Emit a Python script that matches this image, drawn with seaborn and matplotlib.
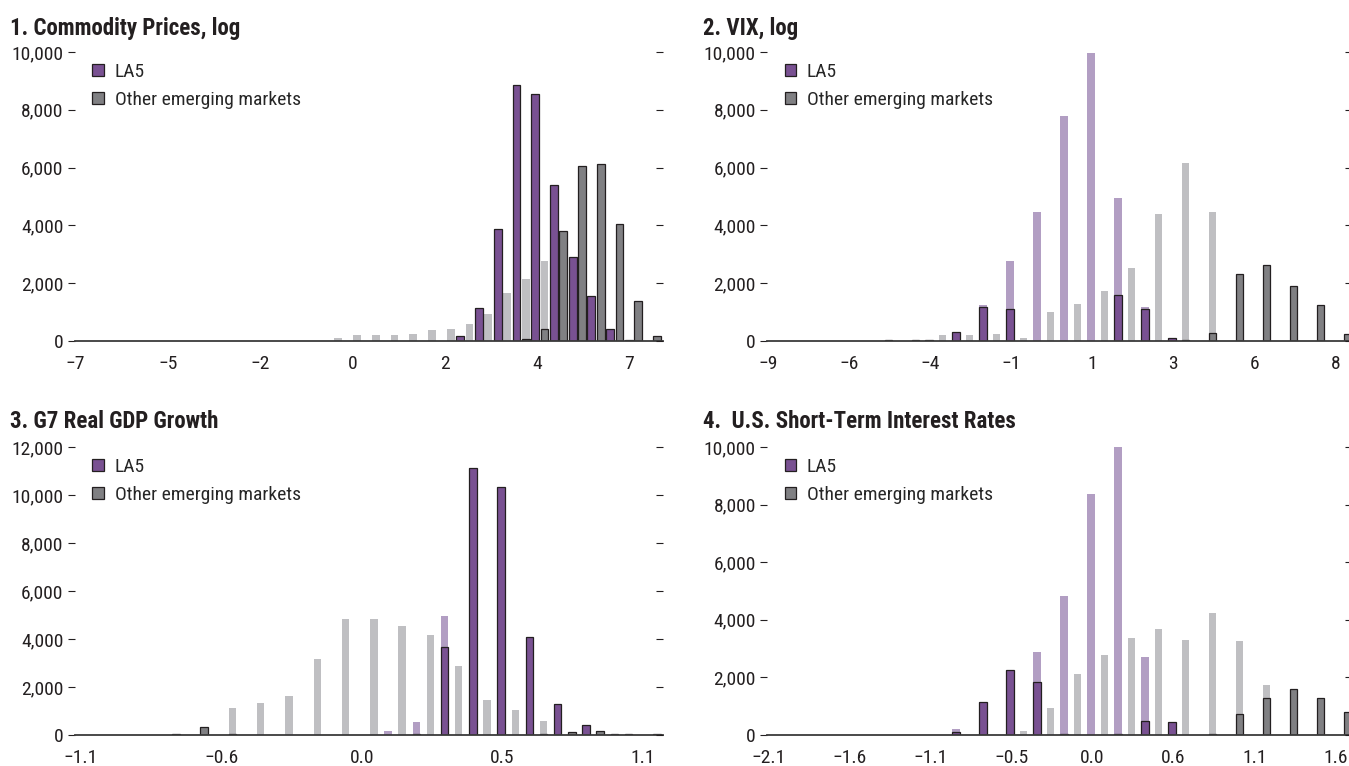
import matplotlib
matplotlib.use("Agg")
import matplotlib.pyplot as plt
import seaborn as sns
import pandas as pd
import numpy as np
from matplotlib import font_manager
from matplotlib.ticker import StrMethodFormatter

# colours
LA5_DARK = "#7b469d"
LA5_LIGHT = "#b398c9"
EM_DARK = "#7f8084"
EM_LIGHT = "#bebfc3"
EDGE = "#231f20"
TEXT = "#231f20"
SERIES = ["LA5", "Other emerging markets"]

# 1. Commodity prices, log  (bins -1 .. 16)
bins_1 = np.arange(-1, 17)
la5_total_1 = [0, 0, 0, 0, 0, 0, 0, 175, 1150, 3875, 8860, 8550, 5390, 2900, 1565, 420, 50, 0]
la5_dark_1 = [0, 0, 0, 0, 0, 0, 0, 175, 1150, 3875, 8860, 8550, 5390, 2900, 1565, 420, 50, 0]
em_total_1 = [120, 200, 200, 200, 255, 370, 430, 600, 930, 1650, 2135, 2770, 3815, 6055, 6125, 4050, 1380, 175]
em_dark_1 = [0, 0, 0, 0, 0, 0, 0, 0, 0, 0, 60, 410, 3815, 6055, 6125, 4050, 1380, 175]
xlabels_1 = ["\u22127", "\u22125", "\u22122", "0", "2", "4", "7"]

# 2. VIX, log  (bins -3 .. 14)
bins_2 = np.arange(-3, 15)
la5_total_2 = [0, 0, 50, 300, 1240, 2770, 4480, 7780, 9980, 4965, 1180, 115, 0, 0, 0, 0, 0, 0]
la5_dark_2 = [0, 0, 50, 300, 1160, 1090, 0, 0, 0, 1580, 1090, 115, 0, 0, 0, 0, 0, 0]
em_total_2 = [50, 50, 200, 200, 230, 115, 1000, 1275, 1730, 2540, 4410, 6150, 4480, 2310, 2620, 1900, 1230, 255]
em_dark_2 = [50, 50, 0, 0, 0, 0, 0, 0, 0, 0, 0, 50, 290, 2310, 2620, 1900, 1230, 255]
xlabels_2 = ["\u22129", "\u22126", "\u22124", "\u22121", "1", "3", "6", "8"]

# 3. G7 real GDP growth  (bins -7 .. 10)
bins_3 = np.arange(-7, 11)
la5_total_3 = [0, 0, 0, 0, 0, 0, 0, 0, 150, 530, 4950, 11130, 10350, 4080, 1300, 420, 60, 0]
la5_dark_3 = [0, 0, 0, 0, 0, 0, 0, 0, 0, 40, 3650, 11130, 10350, 4080, 1300, 420, 60, 0]
em_total_3 = [50, 350, 1115, 1320, 1615, 3160, 4830, 4830, 4555, 4180, 2880, 1450, 1045, 585, 140, 150, 60, 60]
em_dark_3 = [50, 350, 50, 0, 0, 0, 0, 0, 0, 0, 0, 0, 0, 50, 140, 150, 60, 60]
xlabels_3 = ["\u22121.1", "\u22120.6", "0.0", "0.5", "1.1"]

# 4. U.S. short-term interest rates  (bins -3 .. 14)
bins_4 = np.arange(-3, 15)
la5_total_4 = [0, 0, 0, 200, 1160, 2250, 2890, 4840, 8380, 10000, 2725, 450, 0, 0, 0, 0, 0, 0]
la5_dark_4 = [0, 0, 0, 115, 1160, 2250, 1830, 50, 0, 50, 490, 450, 0, 0, 0, 0, 0, 0]
em_total_4 = [0, 0, 0, 0, 0, 140, 930, 2110, 2785, 3365, 3690, 3305, 4235, 3270, 1740, 1600, 1290, 790]
em_dark_4 = [0, 0, 0, 0, 0, 0, 0, 0, 0, 0, 0, 0, 50, 730, 1290, 1600, 1290, 790]
xlabels_4 = ["\u22122.1", "\u22121.6", "\u22121.1", "\u22120.5", "0.0", "0.6", "1.1", "1.6"]


def make_frame(bins, la5, em):
    df = pd.DataFrame({
        "bin": np.concatenate([bins, bins]),
        "series": [SERIES[0]] * len(bins) + [SERIES[1]] * len(bins),
        "count": list(la5) + list(em),
    })
    return df[df["count"] > 0]


def draw_panel(ax, bins, la5_total, la5_dark, em_total, em_dark,
               gap, xlim, xticks, xlabels, ytop):
    light = make_frame(bins, la5_total, em_total)
    dark = make_frame(bins, la5_dark, em_dark)

    # full distribution in pale colours, conditional part on top with outline
    sns.barplot(data=light, x="bin", y="count", hue="series", hue_order=SERIES,
                palette=[LA5_LIGHT, EM_LIGHT], native_scale=True, width=1.0,
                dodge=True, gap=gap, errorbar=None, linewidth=0, legend=False, ax=ax)
    sns.barplot(data=dark, x="bin", y="count", hue="series", hue_order=SERIES,
                palette=[LA5_DARK, EM_DARK], native_scale=True, width=1.0,
                dodge=True, gap=gap, errorbar=None, edgecolor=EDGE, linewidth=0.9, ax=ax)

    ax.set_xlim(*xlim)
    ax.set_xticks(xticks)
    ax.set_xticklabels(xlabels)
    ax.set_ylim(0, ytop)
    ax.set_yticks(np.arange(0, ytop + 1, 2000))
    ax.yaxis.set_major_formatter(StrMethodFormatter("{x:,.0f}"))
    ax.set_xlabel("")
    ax.set_ylabel("")

    for side in ["left", "top", "right"]:
        ax.spines[side].set_visible(False)
    ax.spines["bottom"].set_color("#3a3a3a")
    ax.spines["bottom"].set_linewidth(1.3)
    ax.tick_params(axis="x", length=0, pad=10, labelsize=FS, labelcolor=TEXT)
    ax.tick_params(axis="y", length=5, width=0.8, color=TEXT, pad=3,
                   labelsize=FS, labelcolor=TEXT)

    # short tick marks on the right edge
    ax2 = ax.twinx()
    ax2.set_ylim(0, ytop)
    ax2.set_yticks(np.arange(0, ytop + 1, 2000))
    ax2.tick_params(axis="y", direction="in", length=5, width=0.8, color=TEXT,
                    labelright=False)
    for side in ax2.spines:
        ax2.spines[side].set_visible(False)

    sns.move_legend(ax, "upper left", bbox_to_anchor=(0.03, 0.962), title=None,
                    frameon=False, fontsize=FS, borderaxespad=0, borderpad=0,
                    handlelength=0.6, handleheight=0.6, handletextpad=0.55,
                    labelspacing=0.5)


sns.set_style("white")

# pick a narrow sans if one is installed
installed = {f.name for f in font_manager.fontManager.ttflist}
family = "DejaVu Sans"
for name in ["Liberation Sans Narrow", "Arial Narrow", "Roboto Condensed",
             "DejaVu Sans Condensed", "Open Sans Condensed", "Roboto"]:
    if name in installed:
        family = name
        break
plt.rcParams["font.family"] = [family, "DejaVu Sans"]
FS = 13 if family == "Roboto" else 14

W, H = 1349, 766
fig = plt.figure(figsize=(W / 100, H / 100), dpi=100)


def add_axes(left, right, top, bottom):
    return fig.add_axes([left / W, 1 - bottom / H, (right - left) / W, (bottom - top) / H])


ax1 = add_axes(74.5, 663, 52, 341)
ax2 = add_axes(767, 1352, 52, 341)
ax3 = add_axes(74.5, 663, 447, 735)
ax4 = add_axes(767, 1352, 447, 735)

step1 = 4.925
draw_panel(ax1, bins_1, la5_total_1, la5_dark_1, em_total_1, em_dark_1, 0.17,
           (-14.82, 16.57), [step1 * i for i in range(-3, 4)], xlabels_1, 10000)
draw_panel(ax2, bins_2, la5_total_2, la5_dark_2, em_total_2, em_dark_2, 0.44,
           (-7.25, 14.42), [-7.2 + 3 * i for i in range(8)], xlabels_2, 10000)
draw_panel(ax3, bins_3, la5_total_3, la5_dark_3, em_total_3, em_dark_3, 0.47,
           (-10.33, 10.47), [-10.1 + 4.965 * i for i in range(5)], xlabels_3, 12000)
draw_panel(ax4, bins_4, la5_total_4, la5_dark_4, em_total_4, em_dark_4, 0.44,
           (-7.25, 14.42), [-7.2 + 3 * i for i in range(8)], xlabels_4, 10000)

title_kw = dict(fontsize=FS + 2.5, fontweight="bold", color=TEXT, va="center", ha="left")
fig.text(10 / W, 1 - 28 / H, "1. Commodity Prices, log", **title_kw)
fig.text(703 / W, 1 - 28 / H, "2. VIX, log", **title_kw)
fig.text(10 / W, 1 - 421 / H, "3. G7 Real GDP Growth", **title_kw)
fig.text(703 / W, 1 - 421 / H, "4.  U.S. Short-Term Interest Rates", **title_kw)

fig.savefig("out.png", dpi=100)
